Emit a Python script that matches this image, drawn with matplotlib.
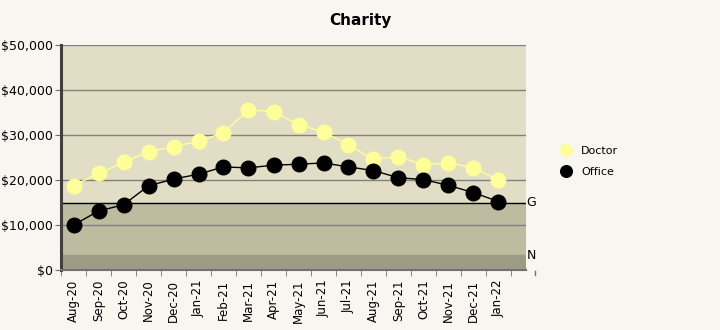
import numpy as np
import matplotlib.pyplot as plt
from matplotlib.ticker import FuncFormatter

months = ["Aug-20", "Sep-20", "Oct-20", "Nov-20", "Dec-20", "Jan-21", "Feb-21",
          "Mar-21", "Apr-21", "May-21", "Jun-21", "Jul-21", "Aug-21", "Sep-21",
          "Oct-21", "Nov-21", "Dec-21", "Jan-22"]
doctor = [18700, 21500, 23900, 26300, 27400, 28600, 30500, 35600, 35200, 32300,
          30700, 27800, 24600, 25200, 23400, 23800, 22700, 20000]
office = [10000, 13100, 14500, 18700, 20200, 21300, 22900, 22700, 23300, 23500,
          23800, 22900, 22100, 20500, 20100, 18800, 17200, 15200]
g_level = 15000
n_level = 3300

bg = "#F8F6F0"
fig = plt.figure(figsize=(7.2, 3.3), dpi=100, facecolor=bg)
ax = fig.add_axes([61 / 720, 60 / 330, 465 / 720, 225 / 330])
ax.set_facecolor("#E2DEC5")

x = np.arange(len(months))
ax.set_xlim(-0.5, 18.1)
ax.set_ylim(0, 50000)

# bands
ax.axhspan(n_level, g_level, color="#BDBBA0", zorder=0)
ax.axhspan(0, n_level, color="#9E9B85", zorder=0)

for v in [10000, 20000, 30000, 40000, 50000]:
    ax.axhline(v, color="#808080", lw=1.0, zorder=1)
ax.axhline(g_level, color="black", lw=1.0, zorder=2)

ax.plot(x, doctor, color="#FFFF99", lw=1, marker="o", ms=10.5, mec="#FFFF99",
        zorder=3, label="Doctor")
ax.plot(x, office, color="black", lw=1, marker="o", ms=10.5, zorder=4,
        label="Office")

ax.text(18.12, g_level, "G", va="center", ha="left", fontsize=9)
ax.text(18.12, n_level, "N", va="center", ha="left", fontsize=9)
# little stray tick right of the plot
ax.plot([18.46, 18.46], [-300, -1000], color="#707070", lw=1, clip_on=False)

for s in ["top", "right"]:
    ax.spines[s].set_visible(False)
ax.spines["left"].set_color("#404040")
ax.spines["left"].set_linewidth(2.2)
ax.spines["bottom"].set_color("#707070")
ax.spines["bottom"].set_linewidth(1.5)

ax.set_yticks([0, 10000, 20000, 30000, 40000, 50000])
ax.yaxis.set_major_formatter(FuncFormatter(lambda v, p: "${:,.0f}".format(v)))
ax.tick_params(axis="y", length=4, color="#707070", labelsize=9, pad=2)

ax.set_xticks(x)
ax.set_xticklabels(months, rotation=90, fontsize=8.5)
ax.set_xticks(np.arange(-0.5, 18, 1), minor=True)
ax.tick_params(axis="x", which="major", length=0, pad=7)
ax.tick_params(axis="x", which="minor", length=4, color="#707070")

fig.text(0.5, 1 - 20 / 330, "Charity", ha="center", va="center",
         fontsize=11, fontweight="bold")

fig.legend(loc="upper left", bbox_to_anchor=(550 / 720, 1 - 136 / 330),
           frameon=False, fontsize=8, handlelength=1, handletextpad=0.9,
           labelspacing=0.95, markerscale=0.8)
for h in fig.legends[0].get_lines():
    h.set_linestyle("none")

fig.savefig("out.png", dpi=100, facecolor=bg)
